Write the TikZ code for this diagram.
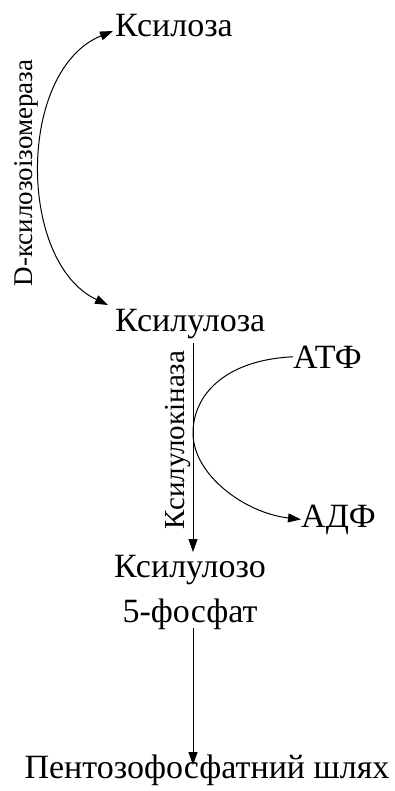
\documentclass[tikz,border=0pt]{standalone}
\usepackage{fontspec}
\setmainfont{Liberation Serif}
\usetikzlibrary{arrows.meta}
\begin{document}
\begin{tikzpicture}[x=1pt,y=-1pt,
  lbl/.style={inner sep=0pt,font=\fontsize{34}{45}\selectfont},
  enz/.style={inner sep=0pt,rotate=90,anchor=base,font=\fontsize{27}{30}\selectfont},
  conn/.style={line width=1pt,-{Triangle[length=13pt,width=9pt]}},
  conn2/.style={line width=1pt,{Triangle[length=13pt,width=9pt]}-{Triangle[length=13pt,width=9pt]}}]
\useasboundingbox (0,0) rectangle (395,791);
\node[lbl,anchor=base west] (ksl) at (115,37) {Ксилоза};
\node[lbl,anchor=base west] (xyl) at (115,331) {Ксилулоза};
\node[lbl,anchor=base west] (atf) at (293,368) {АТФ};
\node[lbl,anchor=base west] (adf) at (301,527) {АДФ};
\node[lbl,anchor=base,align=center] (x5p) at (190,577) {Ксилулозо};
\node[lbl,anchor=base] (fos) at (190,622) {5-фосфат};
\node[lbl,anchor=base] (ppp) at (207,778) {Пентозофосфатний шлях};
\node[enz] (iso) at (32,173) {D-ксилозоізомераза};
\node[enz,font=\fontsize{29}{30}\selectfont] (kin) at (184,440) {Ксилулокіназа};
\coordinate (a1) at (113,31);
\coordinate (a2) at (108,305);
\draw[conn2] (a2) .. controls (17,262) and (17,70) .. (a1);
\coordinate (v1) at (193,343);
\coordinate (v2) at (193,552);
\coordinate (touch) at (193,433);
\draw[conn] (v1) -- (v2);
\draw[line width=1pt] (atf.west) .. controls (225,360) and (193,395) .. (touch);
\draw[conn] (touch) .. controls (193,475) and (245,513) .. (adf.west);
\coordinate (w1) at (193,628);
\coordinate (w2) at (193,765);
\draw[conn] (w1) -- (w2);
\end{tikzpicture}
\end{document}
